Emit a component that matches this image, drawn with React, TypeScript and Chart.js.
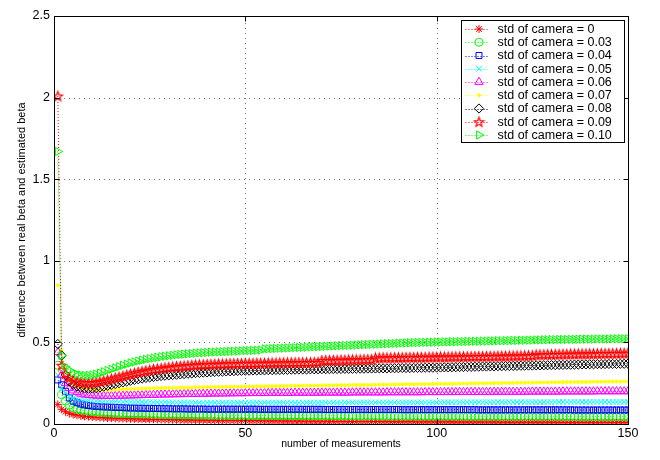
import React, { useEffect, useRef } from "react";
import { Chart, registerables } from "chart.js";
import { drawPoint } from "chart.js/helpers";

Chart.register(...registerables);

const measurementCount = 150;
const measurements: number[] = Array.from({ length: measurementCount }, (_, i) => i + 1);

const xTicks = [0, 50, 100, 150];
const yTicks = [0, 0.5, 1, 1.5, 2, 2.5];

const seriesLabels = [
  "std of camera = 0",
  "std of camera = 0.03",
  "std of camera = 0.04",
  "std of camera = 0.05",
  "std of camera = 0.06",
  "std of camera = 0.07",
  "std of camera = 0.08",
  "std of camera = 0.09",
  "std of camera = 0.10",
];

const std0 = [0.12,0.09,0.075,0.065,0.058,0.054,0.05,0.047,0.045,0.043,
0.041,0.04,0.038,0.037,0.036,0.035,0.034,0.033,0.033,0.032,
0.031,0.031,0.03,0.03,0.029,0.029,0.028,0.028,0.027,0.027,
0.026,0.026,0.026,0.025,0.025,0.025,0.024,0.024,0.024,0.023,
0.023,0.023,0.022,0.022,0.022,0.022,0.021,0.021,0.021,0.021,
0.02,0.02,0.02,0.02,0.019,0.019,0.019,0.019,0.019,0.018,
0.018,0.018,0.018,0.018,0.018,0.017,0.017,0.017,0.017,0.017,
0.017,0.016,0.016,0.016,0.016,0.016,0.016,0.015,0.015,0.015,
0.015,0.015,0.015,0.015,0.015,0.014,0.014,0.014,0.014,0.014,
0.014,0.014,0.014,0.014,0.013,0.013,0.013,0.013,0.013,0.013,
0.013,0.013,0.013,0.013,0.012,0.012,0.012,0.012,0.012,0.012,
0.012,0.012,0.012,0.012,0.012,0.012,0.011,0.011,0.011,0.011,
0.011,0.011,0.011,0.011,0.011,0.011,0.011,0.011,0.011,0.011,
0.011,0.01,0.01,0.01,0.01,0.01,0.01,0.01,0.01,0.01,
0.01,0.01,0.01,0.01,0.01,0.01,0.01,0.01,0.01,0.01];

const std003 = [0.36,0.18,0.14,0.115,0.1,0.092,0.086,0.082,0.079,0.076,
0.074,0.072,0.07,0.069,0.068,0.067,0.066,0.065,0.064,0.063,
0.062,0.062,0.061,0.061,0.06,0.06,0.059,0.059,0.058,0.058,
0.057,0.057,0.057,0.056,0.056,0.056,0.055,0.055,0.055,0.055,
0.054,0.054,0.054,0.054,0.054,0.053,0.053,0.053,0.053,0.053,
0.053,0.053,0.052,0.052,0.052,0.052,0.052,0.051,0.051,0.051,
0.051,0.051,0.051,0.051,0.05,0.05,0.05,0.05,0.05,0.05,
0.05,0.05,0.05,0.05,0.05,0.049,0.049,0.049,0.049,0.049,
0.049,0.049,0.049,0.049,0.049,0.049,0.049,0.048,0.048,0.048,
0.048,0.048,0.048,0.048,0.048,0.048,0.048,0.048,0.048,0.048,
0.048,0.048,0.048,0.048,0.048,0.048,0.047,0.047,0.047,0.047,
0.047,0.047,0.047,0.047,0.047,0.047,0.047,0.047,0.047,0.047,
0.047,0.047,0.047,0.047,0.047,0.047,0.047,0.047,0.047,0.047,
0.047,0.047,0.047,0.047,0.046,0.046,0.046,0.046,0.046,0.046,
0.046,0.046,0.046,0.046,0.046,0.046,0.046,0.046,0.046,0.046];

const std004 = [0.27,0.24,0.2,0.16,0.14,0.13,0.122,0.117,0.113,0.11,
0.108,0.106,0.105,0.104,0.103,0.102,0.101,0.1,0.099,0.098,
0.098,0.097,0.097,0.096,0.096,0.095,0.095,0.094,0.094,0.094,
0.093,0.093,0.093,0.093,0.092,0.092,0.092,0.092,0.092,0.091,
0.091,0.091,0.091,0.091,0.091,0.091,0.091,0.091,0.091,0.091,
0.091,0.091,0.091,0.09,0.09,0.09,0.09,0.09,0.09,0.09,
0.09,0.09,0.09,0.09,0.09,0.09,0.09,0.09,0.09,0.09,
0.089,0.089,0.089,0.089,0.089,0.089,0.089,0.089,0.089,0.089,
0.089,0.089,0.089,0.089,0.089,0.089,0.089,0.089,0.089,0.089,
0.088,0.088,0.088,0.088,0.088,0.088,0.088,0.088,0.088,0.088,
0.088,0.088,0.088,0.088,0.088,0.088,0.088,0.088,0.088,0.088,
0.087,0.087,0.087,0.087,0.087,0.087,0.087,0.087,0.087,0.087,
0.087,0.087,0.087,0.087,0.087,0.087,0.087,0.087,0.087,0.087,
0.087,0.087,0.087,0.087,0.087,0.086,0.086,0.086,0.086,0.086,
0.086,0.086,0.086,0.086,0.086,0.086,0.086,0.086,0.086,0.086];

const std005 = [0.3,0.22,0.19,0.17,0.16,0.155,0.15,0.147,0.145,0.143,
0.142,0.141,0.14,0.139,0.138,0.137,0.137,0.136,0.136,0.135,
0.135,0.135,0.134,0.134,0.134,0.133,0.133,0.133,0.133,0.132,
0.132,0.132,0.132,0.132,0.132,0.132,0.131,0.131,0.131,0.131,
0.131,0.131,0.131,0.131,0.131,0.131,0.131,0.131,0.131,0.131,
0.131,0.131,0.131,0.131,0.131,0.131,0.131,0.131,0.131,0.131,
0.131,0.131,0.131,0.131,0.131,0.131,0.131,0.131,0.131,0.131,
0.131,0.131,0.131,0.131,0.131,0.132,0.132,0.132,0.132,0.132,
0.132,0.132,0.132,0.132,0.132,0.132,0.132,0.132,0.132,0.132,
0.132,0.132,0.132,0.132,0.132,0.132,0.132,0.132,0.132,0.132,
0.133,0.133,0.133,0.133,0.133,0.133,0.133,0.133,0.133,0.133,
0.133,0.133,0.133,0.133,0.133,0.134,0.134,0.134,0.134,0.134,
0.134,0.134,0.134,0.134,0.134,0.134,0.134,0.134,0.134,0.134,
0.135,0.135,0.135,0.135,0.135,0.135,0.135,0.135,0.135,0.135,
0.135,0.135,0.135,0.135,0.135,0.135,0.135,0.135,0.135,0.135];

const std006 = [0.44,0.3,0.25,0.22,0.205,0.195,0.185,0.18,0.177,0.175,
0.174,0.173,0.172,0.172,0.172,0.172,0.173,0.173,0.174,0.174,
0.175,0.176,0.176,0.177,0.178,0.178,0.179,0.18,0.18,0.181,
0.181,0.182,0.182,0.183,0.183,0.184,0.184,0.185,0.185,0.185,
0.186,0.186,0.186,0.187,0.187,0.187,0.188,0.188,0.188,0.188,
0.189,0.189,0.189,0.189,0.189,0.19,0.19,0.19,0.19,0.19,
0.19,0.19,0.191,0.191,0.191,0.191,0.191,0.191,0.191,0.192,
0.192,0.192,0.192,0.192,0.192,0.192,0.192,0.193,0.193,0.193,
0.193,0.193,0.193,0.193,0.193,0.193,0.194,0.194,0.194,0.194,
0.194,0.194,0.194,0.194,0.194,0.194,0.195,0.195,0.195,0.195,
0.195,0.195,0.195,0.195,0.195,0.196,0.196,0.196,0.196,0.196,
0.196,0.196,0.196,0.196,0.197,0.197,0.197,0.197,0.197,0.197,
0.197,0.197,0.197,0.198,0.198,0.198,0.198,0.198,0.198,0.198,
0.198,0.198,0.199,0.199,0.199,0.199,0.199,0.199,0.199,0.199,
0.199,0.2,0.2,0.2,0.2,0.2,0.2,0.2,0.2,0.2];

const std007 = [0.85,0.45,0.32,0.27,0.245,0.23,0.22,0.215,0.212,0.21,
0.209,0.209,0.209,0.21,0.21,0.211,0.212,0.213,0.214,0.215,
0.216,0.216,0.217,0.218,0.218,0.219,0.22,0.22,0.221,0.221,
0.222,0.222,0.223,0.223,0.224,0.224,0.225,0.225,0.226,0.226,
0.226,0.227,0.227,0.228,0.228,0.228,0.229,0.229,0.229,0.23,
0.23,0.23,0.231,0.231,0.231,0.232,0.232,0.232,0.233,0.233,
0.233,0.234,0.234,0.234,0.235,0.235,0.235,0.236,0.236,0.236,
0.237,0.237,0.237,0.238,0.238,0.238,0.239,0.239,0.239,0.24,
0.24,0.24,0.241,0.241,0.241,0.242,0.242,0.242,0.243,0.243,
0.243,0.244,0.244,0.244,0.244,0.245,0.245,0.245,0.245,0.246,
0.246,0.246,0.247,0.247,0.247,0.248,0.248,0.248,0.249,0.249,
0.249,0.25,0.25,0.25,0.251,0.251,0.251,0.252,0.252,0.252,
0.253,0.253,0.253,0.254,0.254,0.254,0.255,0.255,0.255,0.256,
0.256,0.256,0.257,0.257,0.257,0.258,0.258,0.258,0.258,0.259,
0.259,0.259,0.259,0.26,0.26,0.26,0.26,0.26,0.261,0.261];

const std008 = [0.49,0.42,0.3,0.26,0.24,0.23,0.222,0.218,0.216,0.217,
0.22,0.224,0.229,0.234,0.24,0.245,0.25,0.255,0.26,0.265,
0.27,0.274,0.278,0.282,0.285,0.288,0.291,0.294,0.296,0.298,
0.3,0.302,0.304,0.306,0.308,0.31,0.312,0.313,0.315,0.316,
0.318,0.319,0.32,0.321,0.322,0.323,0.324,0.325,0.326,0.327,
0.327,0.328,0.328,0.329,0.329,0.33,0.33,0.331,0.331,0.332,
0.332,0.333,0.333,0.334,0.334,0.334,0.335,0.335,0.335,0.336,
0.336,0.336,0.337,0.337,0.337,0.338,0.338,0.338,0.339,0.339,
0.339,0.34,0.34,0.34,0.341,0.341,0.341,0.342,0.342,0.342,
0.343,0.343,0.343,0.344,0.344,0.344,0.345,0.345,0.345,0.346,
0.346,0.347,0.347,0.348,0.348,0.349,0.349,0.35,0.35,0.351,
0.351,0.352,0.352,0.353,0.353,0.354,0.354,0.355,0.355,0.356,
0.356,0.357,0.357,0.358,0.358,0.359,0.359,0.36,0.36,0.361,
0.361,0.362,0.362,0.363,0.363,0.364,0.364,0.365,0.365,0.366,
0.366,0.367,0.367,0.367,0.368,0.368,0.368,0.369,0.369,0.37];

const std009 = [2.01,0.36,0.31,0.285,0.27,0.262,0.256,0.253,0.252,0.253,
0.256,0.26,0.265,0.27,0.276,0.282,0.288,0.294,0.3,0.306,
0.312,0.317,0.322,0.327,0.331,0.335,0.338,0.341,0.344,0.347,
0.35,0.352,0.354,0.356,0.358,0.36,0.362,0.363,0.364,0.365,
0.366,0.367,0.368,0.368,0.369,0.37,0.37,0.371,0.371,0.372,
0.372,0.372,0.373,0.373,0.373,0.374,0.374,0.374,0.375,0.375,
0.375,0.376,0.376,0.376,0.377,0.377,0.377,0.378,0.378,0.389,
0.39,0.39,0.391,0.391,0.392,0.392,0.393,0.393,0.394,0.394,
0.395,0.395,0.395,0.405,0.405,0.406,0.406,0.406,0.407,0.407,
0.407,0.408,0.408,0.408,0.409,0.409,0.409,0.41,0.41,0.41,
0.411,0.411,0.411,0.412,0.412,0.412,0.413,0.413,0.413,0.414,
0.414,0.414,0.415,0.415,0.415,0.416,0.416,0.416,0.417,0.417,
0.418,0.418,0.419,0.419,0.42,0.424,0.425,0.425,0.426,0.426,
0.427,0.427,0.428,0.428,0.429,0.429,0.43,0.43,0.43,0.431,
0.431,0.431,0.432,0.432,0.432,0.433,0.433,0.434,0.434,0.435];

const std010 = [1.67,0.42,0.35,0.33,0.315,0.305,0.3,0.298,0.298,0.3,
0.305,0.312,0.32,0.328,0.336,0.344,0.352,0.36,0.367,0.374,
0.38,0.386,0.391,0.396,0.4,0.404,0.408,0.412,0.415,0.418,
0.421,0.424,0.426,0.428,0.43,0.432,0.434,0.436,0.437,0.438,
0.44,0.441,0.442,0.443,0.444,0.445,0.446,0.447,0.448,0.449,
0.45,0.451,0.452,0.453,0.46,0.461,0.462,0.463,0.464,0.465,
0.466,0.467,0.468,0.469,0.47,0.471,0.472,0.473,0.474,0.475,
0.476,0.477,0.478,0.479,0.48,0.481,0.482,0.483,0.484,0.485,
0.486,0.487,0.488,0.489,0.49,0.491,0.492,0.493,0.494,0.495,
0.496,0.497,0.498,0.499,0.499,0.5,0.5,0.501,0.501,0.502,
0.502,0.503,0.503,0.504,0.504,0.505,0.505,0.506,0.506,0.507,
0.507,0.508,0.508,0.509,0.509,0.51,0.51,0.511,0.511,0.512,
0.512,0.513,0.513,0.514,0.514,0.515,0.515,0.516,0.516,0.517,
0.517,0.518,0.518,0.518,0.519,0.519,0.519,0.52,0.52,0.52,
0.52,0.521,0.521,0.521,0.521,0.522,0.522,0.522,0.522,0.522];

const seriesValues = [std0, std003, std004, std005, std006, std007, std008, std009, std010];

const FONT = "'Liberation Sans', Arial, Helvetica, sans-serif";

function makePentagram(color: string, r: number): HTMLCanvasElement {
  const size = Math.ceil(r * 2 + 3);
  const c = document.createElement("canvas");
  c.width = size;
  c.height = size;
  const g = c.getContext("2d")!;
  g.strokeStyle = color;
  g.lineWidth = 1.2;
  g.beginPath();
  const cx = size / 2, cy = size / 2 + 0.5;
  for (let k = 0; k < 10; k++) {
    const ang = -Math.PI / 2 + (k * Math.PI) / 5;
    const rr = k % 2 === 0 ? r : r * 0.42;
    const px = cx + Math.cos(ang) * rr;
    const py = cy + Math.sin(ang) * rr;
    if (k === 0) g.moveTo(px, py);
    else g.lineTo(px, py);
  }
  g.closePath();
  g.stroke();
  return c;
}

type Style = { color: string; pointStyle: any; radius: number; rotation?: number; fill?: boolean };

function buildStyles(): Style[] {
  return [
    { color: "#ff0000", pointStyle: "star", radius: 4 },
    { color: "#00ff00", pointStyle: "circle", radius: 4 },
    { color: "#0000ff", pointStyle: "rect", radius: 4.2 },
    { color: "#00ffff", pointStyle: "crossRot", radius: 4 },
    { color: "#ff00ff", pointStyle: "triangle", radius: 4.8 },
    { color: "#ffff00", pointStyle: "circle", radius: 1.5, fill: true },
    { color: "#000000", pointStyle: "rectRot", radius: 4.6 },
    { color: "#ff0000", pointStyle: makePentagram("#ff0000", 5), radius: 5 },
    { color: "#00ff00", pointStyle: "triangle", radius: 4.8, rotation: 90 },
  ];
}

export default function App() {
  const canvasRef = useRef<HTMLCanvasElement | null>(null);

  useEffect(() => {
    if (!canvasRef.current) return;
    const styles = buildStyles();

    const datasets = seriesValues.map((vals, i) => {
      const st = styles[i];
      return {
        label: seriesLabels[i],
        data: vals.map((v, j) => ({ x: measurements[j], y: v })),
        borderColor: st.color,
        backgroundColor: st.fill ? st.color : "rgba(0,0,0,0)",
        borderWidth: 1,
        borderDash: [1, 2],
        pointStyle: st.pointStyle,
        pointRadius: st.radius,
        pointRotation: st.rotation || 0,
        pointBorderColor: st.color,
        pointBackgroundColor: st.fill ? st.color : "rgba(0,0,0,0)",
        pointBorderWidth: 1,
        tension: 0,
        order: seriesValues.length - i,
      };
    });

    const framePlugin = {
      id: "matlabFrame",
      beforeDatasetsDraw(chart: any) {
        const { ctx, chartArea: a, scales } = chart;
        ctx.save();
        ctx.strokeStyle = "rgba(0,0,0,0.55)";
        ctx.lineWidth = 1;
        ctx.setLineDash([1, 4]);
        xTicks.forEach((t) => {
          if (t <= xTicks[0] || t >= xTicks[xTicks.length - 1]) return;
          const px = Math.round(scales.x.getPixelForValue(t)) + 0.5;
          ctx.beginPath();
          ctx.moveTo(px, a.bottom);
          ctx.lineTo(px, a.top);
          ctx.stroke();
        });
        yTicks.forEach((t) => {
          if (t <= yTicks[0] || t >= yTicks[yTicks.length - 1]) return;
          const py = Math.round(scales.y.getPixelForValue(t)) + 0.5;
          ctx.beginPath();
          ctx.moveTo(a.left, py);
          ctx.lineTo(a.right, py);
          ctx.stroke();
        });
        ctx.restore();
      },
      afterDraw(chart: any) {
        const { ctx, chartArea: a, scales } = chart;
        ctx.save();
        ctx.setLineDash([]);
        ctx.strokeStyle = "#000";
        ctx.lineWidth = 1;
        const L = Math.round(a.left) + 0.5, R = Math.round(a.right) + 0.5;
        const T = Math.round(a.top) + 0.5, B = Math.round(a.bottom) + 0.5;
        ctx.strokeRect(L, T, R - L, B - T);
        const tl = 5;
        ctx.beginPath();
        xTicks.forEach((t) => {
          const px = Math.round(scales.x.getPixelForValue(t)) + 0.5;
          ctx.moveTo(px, B); ctx.lineTo(px, B - tl);
          ctx.moveTo(px, T); ctx.lineTo(px, T + tl);
        });
        yTicks.forEach((t) => {
          const py = Math.round(scales.y.getPixelForValue(t)) + 0.5;
          ctx.moveTo(L, py); ctx.lineTo(L + tl, py);
          ctx.moveTo(R, py); ctx.lineTo(R - tl, py);
        });
        ctx.stroke();

        // legend
        const boxW = 163, rowH = 13.25;
        const boxH = Math.round(rowH * seriesLabels.length + 3);
        const bx = Math.round(a.right - 4 - boxW) + 0.5;
        const by = Math.round(a.top + 4) + 0.5;
        ctx.fillStyle = "#fff";
        ctx.fillRect(bx, by, boxW, boxH);
        ctx.strokeStyle = "#000";
        ctx.strokeRect(bx, by, boxW, boxH);
        ctx.font = "12.5px " + FONT;
        ctx.textBaseline = "middle";
        ctx.textAlign = "left";
        seriesLabels.forEach((lab, i) => {
          const st = styles[i];
          const cy = by + 8.5 + i * rowH;
          ctx.save();
          ctx.strokeStyle = st.color;
          ctx.setLineDash([1, 2]);
          ctx.beginPath();
          ctx.moveTo(bx + 4, Math.round(cy) + 0.5);
          ctx.lineTo(bx + 28, Math.round(cy) + 0.5);
          ctx.stroke();
          ctx.setLineDash([]);
          ctx.strokeStyle = st.color;
          ctx.fillStyle = st.fill ? st.color : "rgba(0,0,0,0)";
          ctx.lineWidth = 1;
          drawPoint(ctx, { pointStyle: st.pointStyle, radius: st.radius, rotation: st.rotation || 0, borderWidth: 1 } as any, bx + 17.5, cy);
          ctx.restore();
          ctx.fillStyle = "#000";
          ctx.fillText(lab, bx + 36, cy + 0.5);
        });
        ctx.restore();
      },
    };

    const chart = new Chart(canvasRef.current, {
      type: "line",
      data: { datasets: datasets as any },
      options: {
        animation: false,
        responsive: false,
        devicePixelRatio: 1,
        layout: { padding: { top: 16, right: 32, left: 0, bottom: 0 } },
        plugins: { legend: { display: false }, tooltip: { enabled: false }, title: { display: false } },
        scales: {
          x: {
            type: "linear",
            min: xTicks[0],
            max: xTicks[xTicks.length - 1],
            afterBuildTicks: (s: any) => { s.ticks = xTicks.map((v) => ({ value: v })); },
            afterFit: (s: any) => { s.height = 36; },
            grid: { display: false, drawTicks: false },
            border: { display: false },
            ticks: { color: "#000", font: { family: FONT, size: 12.5 }, padding: 2, maxRotation: 0, callback: (v: any) => String(v) },
            title: { display: true, text: "number of measurements", color: "#000", font: { family: FONT, size: 10.5 }, padding: { top: 0, bottom: 10 } },
          },
          y: {
            type: "linear",
            min: yTicks[0],
            max: yTicks[yTicks.length - 1],
            afterBuildTicks: (s: any) => { s.ticks = yTicks.map((v) => ({ value: v })); },
            afterFit: (s: any) => { s.width = 54; },
            grid: { display: false, drawTicks: false },
            border: { display: false },
            ticks: { color: "#000", font: { family: FONT, size: 12.5 }, padding: 4, callback: (v: any) => String(v) },
            title: { display: true, text: "difference between real beta and estimated beta", color: "#000", font: { family: FONT, size: 11 }, padding: { top: 15, bottom: 0 } },
          },
        },
      } as any,
      plugins: [framePlugin],
    });

    return () => chart.destroy();
  }, []);

  return (
    <div style={{ position: "absolute", left: 0, top: 0, width: 660, height: 460, background: "#fff" }}>
      <canvas ref={canvasRef} width={660} height={460} style={{ display: "block" }} />
    </div>
  );
}
